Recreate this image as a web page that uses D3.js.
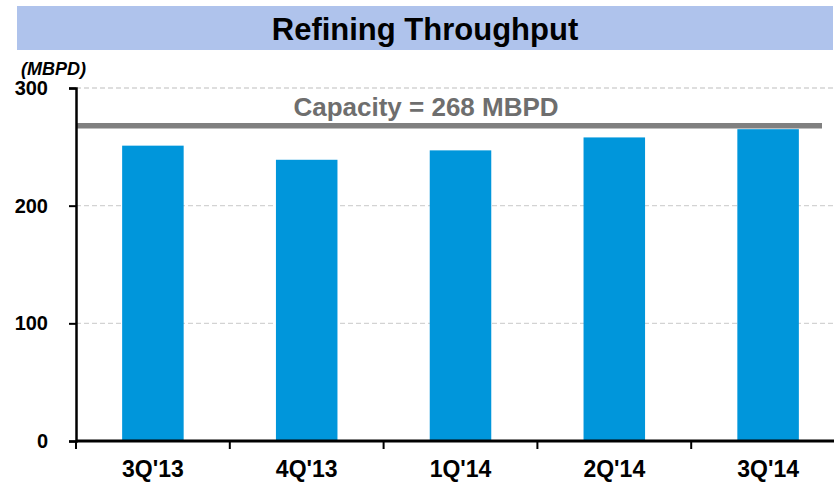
<!DOCTYPE html>
<html>
<head>
<meta charset="utf-8">
<script src="https://cdn.jsdelivr.net/npm/d3@7"></script>
<style>
  body { margin: 0; background: #fff; }
  svg { display: block; font-family: "Liberation Sans", Arial, sans-serif; }
</style>
</head>
<body>
<svg width="834" height="491"></svg>
<script>
var quarters = ["3Q'13", "4Q'13", "1Q'14", "2Q'14", "3Q'14"];
var throughput = [251, 239, 247, 258, 265];
var capacity = [268];
var yTicks = [0, 100, 200, 300];

var svg = d3.select("svg");

// title band
svg.append("rect")
  .attr("x", 17).attr("y", 6)
  .attr("width", 816).attr("height", 44)
  .attr("fill", "#afc3ec");
svg.append("text")
  .attr("x", 425).attr("y", 40)
  .attr("text-anchor", "middle")
  .attr("font-size", 31).attr("font-weight", "bold")
  .attr("fill", "#000")
  .text("Refining Throughput");

var plotLeft = 76, plotBottom = 441, plotTop = 88;

var x = d3.scaleBand().domain(quarters).range([plotLeft, plotLeft + 5 * 153.8]).paddingInner(0.6).paddingOuter(0.3);
var y = d3.scaleLinear().domain([0, 300]).range([plotBottom, plotTop]);

// gridlines
svg.append("g")
  .selectAll("line")
  .data(yTicks.filter(function (d) { return d > 0; }))
  .enter()
  .append("line")
  .attr("x1", plotLeft).attr("x2", 834)
  .attr("y1", function (d) { return y(d); })
  .attr("y2", function (d) { return y(d); })
  .attr("stroke", "#d3d3d3")
  .attr("stroke-width", 1.3)
  .attr("stroke-dasharray", "5,3");

// bars
svg.append("g")
  .selectAll("rect")
  .data(throughput)
  .enter()
  .append("rect")
  .attr("x", function (d, i) { return x(quarters[i]); })
  .attr("y", function (d) { return y(d); })
  .attr("width", x.bandwidth())
  .attr("height", function (d) { return plotBottom - y(d); })
  .attr("fill", "#0096db");

// capacity line
svg.append("line")
  .attr("x1", plotLeft).attr("x2", 822)
  .attr("y1", y(capacity[0])).attr("y2", y(capacity[0]))
  .attr("stroke", "#808080")
  .attr("stroke-width", 5.5);
svg.append("text")
  .attr("x", 426).attr("y", 116)
  .attr("text-anchor", "middle")
  .attr("font-size", 26).attr("font-weight", "bold")
  .attr("fill", "#6e6e6e")
  .text("Capacity = " + capacity[0] + " MBPD");

// y axis
var yAxis = d3.axisLeft(y).tickValues(yTicks).tickSize(7).tickPadding(21);
var gy = svg.append("g").attr("transform", "translate(" + plotLeft + ",0)").call(yAxis);
gy.select(".domain").attr("stroke", "#000").attr("stroke-width", 2.5);
gy.selectAll(".tick line").attr("stroke", "#000").attr("stroke-width", 2);
gy.selectAll("text")
  .attr("font-family", "Liberation Sans, Arial, sans-serif")
  .attr("font-size", 20).attr("font-weight", "bold").attr("fill", "#000");

// x axis
var xAxis = d3.axisBottom(x).tickSize(0).tickPadding(20);
var gx = svg.append("g").attr("transform", "translate(0," + plotBottom + ")").call(xAxis);
gx.select(".domain").attr("d", "M" + plotLeft + ",0H834").attr("stroke", "#000").attr("stroke-width", 3);
gx.selectAll("text")
  .attr("font-family", "Liberation Sans, Arial, sans-serif")
  .attr("font-size", 23).attr("font-weight", "bold").attr("fill", "#000");

// separator ticks between categories
svg.append("g")
  .selectAll("line")
  .data(quarters)
  .enter()
  .append("line")
  .attr("x1", function (d) { return x(d) - x.step() * 0.3; })
  .attr("x2", function (d) { return x(d) - x.step() * 0.3; })
  .attr("y1", plotBottom).attr("y2", plotBottom + 8)
  .attr("stroke", "#000").attr("stroke-width", 2);

// unit label
svg.append("text")
  .attr("x", 21).attr("y", 75)
  .attr("font-size", 18).attr("font-weight", "bold").attr("font-style", "italic")
  .attr("fill", "#000")
  .text("(MBPD)");
</script>
</body>
</html>
